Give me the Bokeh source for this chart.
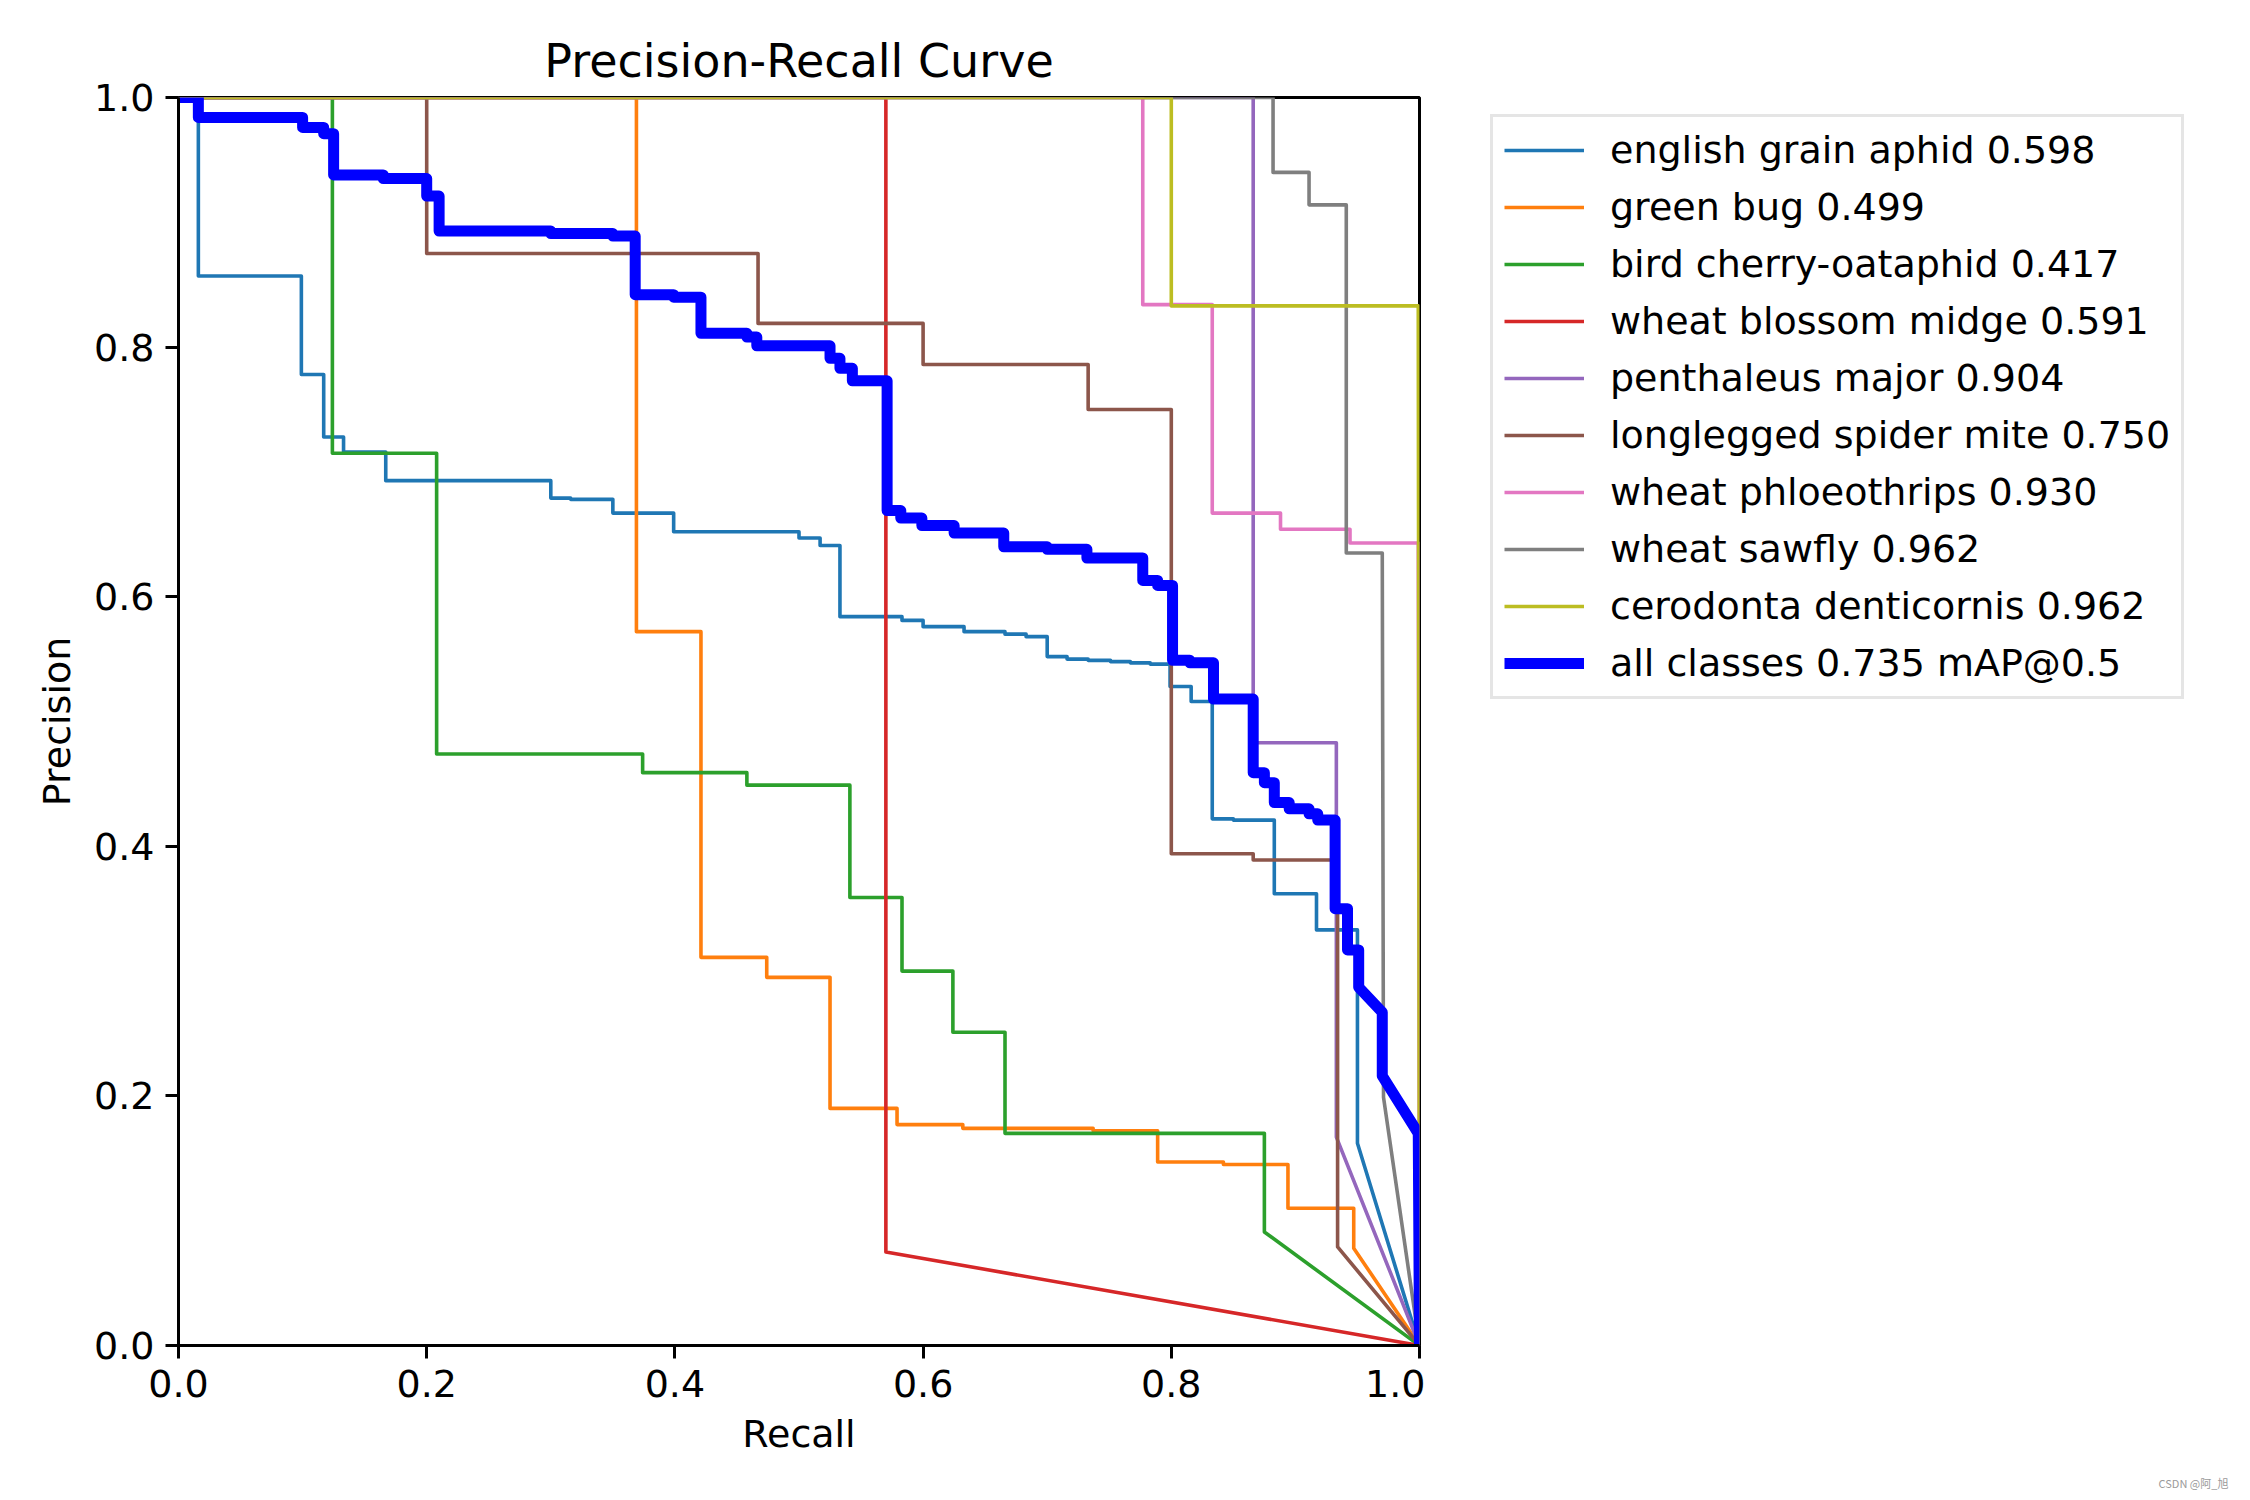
from bokeh.plotting import figure
from bokeh.models import Range1d, FixedTicker, NumeralTickFormatter, Legend, LegendItem, Label
from bokeh.layouts import row, column
from bokeh.embed import file_html
from bokeh.resources import INLINE

# ---------------- data ----------------
class_names = ["english grain aphid", "green bug", "bird cherry-oataphid",
               "wheat blossom midge", "penthaleus major", "longlegged spider mite",
               "wheat phloeothrips", "wheat sawfly", "cerodonta denticornis"]
class_ap = [0.598, 0.499, 0.417, 0.591, 0.904, 0.750, 0.930, 0.962, 0.962]
map50 = 0.735
class_colors = ["#1f77b4", "#ff7f0e", "#2ca02c", "#d62728", "#9467bd",
                "#8c564b", "#e377c2", "#7f7f7f", "#bcbd22"]
x_ticks = [0.0, 0.2, 0.4, 0.6, 0.8, 1.0]
y_ticks = [0.0, 0.2, 0.4, 0.6, 0.8, 1.0]

# step curves: recall edges, precision level between edges, then tail vertices
ega_edges = [0.000, 0.016, 0.099, 0.117, 0.133, 0.167, 0.300, 0.316, 0.350, 0.399,
             0.500, 0.517, 0.533, 0.583, 0.600, 0.633, 0.666, 0.683, 0.700, 0.716,
             0.733, 0.751, 0.767, 0.783, 0.799, 0.816, 0.833, 0.850, 0.883, 0.917, 0.950]
ega_levels = [1.000, 0.857, 0.778, 0.728, 0.716, 0.693, 0.679, 0.678, 0.667, 0.652,
              0.647, 0.641, 0.584, 0.581, 0.576, 0.572, 0.570, 0.568, 0.552, 0.550,
              0.549, 0.548, 0.547, 0.546, 0.528, 0.516, 0.422, 0.421, 0.362, 0.333]
ega_tail_r = [0.950, 1.000]
ega_tail_p = [0.162, 0.000]

gb_edges = [0.000, 0.369, 0.421, 0.474, 0.525, 0.579, 0.632, 0.737, 0.789, 0.842, 0.894, 0.947]
gb_levels = [1.000, 0.572, 0.311, 0.295, 0.190, 0.177, 0.174, 0.172, 0.147, 0.145, 0.110]
gb_tail_r = [0.947, 1.000]
gb_tail_p = [0.078, 0.000]

bco_edges = [0.000, 0.124, 0.208, 0.374, 0.458, 0.541, 0.583, 0.624, 0.666, 0.875]
bco_levels = [1.000, 0.715, 0.474, 0.459, 0.449, 0.359, 0.300, 0.251, 0.170]
bco_tail_r = [0.875, 1.000]
bco_tail_p = [0.091, 0.000]

wbm_edges = [0.000, 0.570]
wbm_levels = [1.000]
wbm_tail_r = [0.570, 1.000]
wbm_tail_p = [0.075, 0.000]

pm_edges = [0.000, 0.866, 0.933]
pm_levels = [1.000, 0.483]
pm_tail_r = [0.933, 1.000]
pm_tail_p = [0.167, 0.000]

lsm_edges = [0.000, 0.200, 0.467, 0.600, 0.733, 0.800, 0.866, 0.934]
lsm_levels = [1.000, 0.875, 0.819, 0.786, 0.750, 0.394, 0.389]
lsm_tail_r = [0.934, 1.000]
lsm_tail_p = [0.079, 0.000]

wp_edges = [0.000, 0.777, 0.833, 0.888, 0.944, 0.999]
wp_levels = [1.000, 0.834, 0.667, 0.654, 0.643]
wp_tail_r = [1.000]
wp_tail_p = [0.000]

ws_edges = [0.000, 0.882, 0.911, 0.941, 0.970]
ws_levels = [1.000, 0.940, 0.914, 0.635]
ws_tail_r = [0.971, 1.000]
ws_tail_p = [0.199, 0.000]

cd_edges = [0.000, 0.800, 0.999]
cd_levels = [1.000, 0.833]
cd_tail_r = [1.000]
cd_tail_p = [0.000]

all_edges = [0.000, 0.016, 0.100, 0.117, 0.125, 0.165, 0.200, 0.210, 0.300, 0.350,
             0.368, 0.399, 0.421, 0.458, 0.466, 0.525, 0.533, 0.543, 0.571, 0.582,
             0.599, 0.625, 0.665, 0.700, 0.732, 0.777, 0.789, 0.801, 0.815, 0.834,
             0.866, 0.875, 0.883, 0.895, 0.911, 0.918, 0.932, 0.942, 0.951]
all_levels = [1.000, 0.984, 0.976, 0.971, 0.938, 0.935, 0.921, 0.893, 0.891, 0.889,
              0.842, 0.840, 0.811, 0.808, 0.801, 0.791, 0.783, 0.773, 0.669, 0.663,
              0.657, 0.651, 0.640, 0.638, 0.631, 0.613, 0.609, 0.549, 0.547, 0.518,
              0.459, 0.451, 0.435, 0.430, 0.426, 0.421, 0.350, 0.317]
all_tail_r = [0.951, 0.970, 0.970, 0.999, 1.000]
all_tail_p = [0.287, 0.267, 0.216, 0.170, 0.000]

curves = [
    (ega_edges, ega_levels, ega_tail_r, ega_tail_p),
    (gb_edges, gb_levels, gb_tail_r, gb_tail_p),
    (bco_edges, bco_levels, bco_tail_r, bco_tail_p),
    (wbm_edges, wbm_levels, wbm_tail_r, wbm_tail_p),
    (pm_edges, pm_levels, pm_tail_r, pm_tail_p),
    (lsm_edges, lsm_levels, lsm_tail_r, lsm_tail_p),
    (wp_edges, wp_levels, wp_tail_r, wp_tail_p),
    (ws_edges, ws_levels, ws_tail_r, ws_tail_p),
    (cd_edges, cd_levels, cd_tail_r, cd_tail_p),
]


def step_path(edges, levels, tail_r, tail_p):
    xs, ys = [], []
    for i, lv in enumerate(levels):
        xs += [edges[i], edges[i + 1]]
        ys += [lv, lv]
    return xs + list(tail_r), ys + list(tail_p)


FONT = "DejaVu Sans"
FS = "38px"
THIN, THICK = 3.6, 11.0
FRAME_L, FRAME_R, FRAME_T, FRAME_B = 178, 1419, 97, 1345
MAIN_W = FRAME_R + 6
TOTAL_W, TOTAL_H = 2250, 1500
FOOT_H = 28
ROW_H = TOTAL_H - FOOT_H

# ---------------- main axes ----------------
p = figure(width=MAIN_W, height=ROW_H, output_backend="svg", toolbar_location=None,
           x_range=Range1d(0, 1), y_range=Range1d(0, 1),
           min_border_left=FRAME_L, min_border_right=MAIN_W - FRAME_R,
           min_border_top=FRAME_T, min_border_bottom=ROW_H - FRAME_B,
           title="Precision-Recall Curve")
p.background_fill_color = "white"
p.border_fill_color = "white"
p.xgrid.visible = False
p.ygrid.visible = False
p.outline_line_color = "black"
p.outline_line_width = 3.0
p.outline_line_alpha = 1.0

p.title.align = "center"
p.title.text_font = FONT
p.title.text_font_size = "46px"
p.title.text_font_style = "normal"
p.title.text_color = "black"
p.title.standoff = 20

for ax, ticks, lab in ((p.xaxis[0], x_ticks, "Recall"), (p.yaxis[0], y_ticks, "Precision")):
    ax.ticker = FixedTicker(ticks=ticks)
    ax.formatter = NumeralTickFormatter(format="0.0")
    ax.axis_label = lab
    ax.axis_label_text_font = FONT
    ax.axis_label_text_font_size = FS
    ax.axis_label_text_font_style = "normal"
    ax.axis_label_text_color = "black"
    ax.axis_label_standoff = 12
    ax.major_label_text_font = FONT
    ax.major_label_text_font_size = FS
    ax.major_label_text_color = "black"
    ax.major_label_standoff = 11
    ax.axis_line_width = 3.0
    ax.axis_line_color = "black"
    ax.major_tick_line_width = 3.0
    ax.major_tick_line_color = "black"
    ax.major_tick_out = 13
    ax.major_tick_in = 0
    ax.minor_tick_line_color = None

# ---------------- legend panel (frame aligned with main frame) ----------------
q = figure(width=TOTAL_W - MAIN_W, height=ROW_H, output_backend="svg", toolbar_location=None,
           x_range=Range1d(0, 1), y_range=Range1d(0, 1),
           x_axis_location=None, y_axis_location=None,
           min_border_left=0, min_border_right=0,
           min_border_top=FRAME_T, min_border_bottom=ROW_H - FRAME_B)
q.grid.visible = False
q.outline_line_color = None
q.background_fill_color = "white"
q.border_fill_color = "white"

nan = float("nan")
items = []
for (edges, levels, tr, tp), name, ap, col in zip(curves, class_names, class_ap, class_colors):
    xs, ys = step_path(edges, levels, tr, tp)
    p.line(xs, ys, line_color=col, line_width=THIN, line_join="round")
    key = q.line([nan], [nan], line_color=col, line_width=THIN)
    items.append(LegendItem(label=f"{name} {ap:.3f}", renderers=[key]))

xs, ys = step_path(all_edges, all_levels, all_tail_r, all_tail_p)
p.line(xs, ys, line_color="blue", line_width=THICK, line_join="round")
key_all = q.line([nan], [nan], line_color="blue", line_width=THICK)
items.append(LegendItem(label=f"all classes {map50:.3f} mAP@0.5", renderers=[key_all]))

LEG_LEFT, LEG_BOTTOM = 1490, 699
legend = Legend(items=items, location=(LEG_LEFT - MAIN_W, FRAME_B - LEG_BOTTOM))
legend.label_text_font = FONT
legend.label_text_font_size = FS
legend.label_text_color = "black"
legend.glyph_width = 80
legend.glyph_height = 44
legend.label_height = 44
legend.label_standoff = 26
legend.spacing = 13
legend.padding = 11
legend.margin = 0
legend.border_line_color = "#cccccc"
legend.border_line_width = 3
legend.background_fill_color = "white"
legend.background_fill_alpha = 0.8
q.add_layout(legend, "center")

# ---------------- footer strip with the small watermark ----------------
f = figure(width=TOTAL_W, height=FOOT_H, output_backend="svg", toolbar_location=None,
           x_range=Range1d(0, 1), y_range=Range1d(0, 1),
           x_axis_location=None, y_axis_location=None,
           min_border_left=0, min_border_right=0, min_border_top=0, min_border_bottom=0)
f.grid.visible = False
f.outline_line_color = None
f.background_fill_color = "white"
f.border_fill_color = "white"
wm = Label(x=2193, y=TOTAL_H - 1482, x_units="screen", y_units="screen",
           text="CSDN @阿_旭", text_font="Noto Sans CJK SC", text_font_size="11px",
           text_color="#9a9a9a", text_align="center", text_baseline="middle")
f.add_layout(wm)

layout = column(row(p, q), f)
open("out.html", "w").write(file_html(layout, INLINE))
